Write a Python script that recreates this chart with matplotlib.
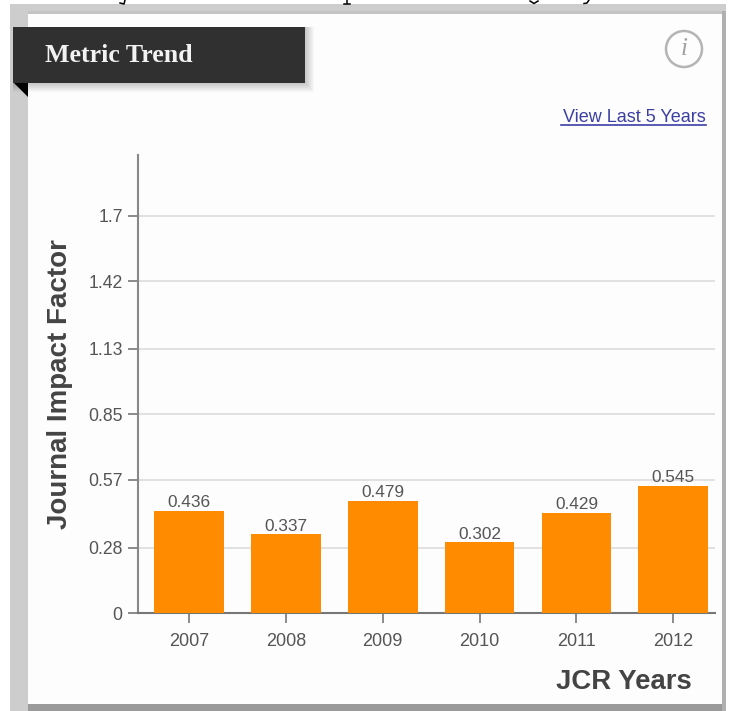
#!/usr/bin/env python3
"""
plot.py -- metric trend card: journal impact factor per JCR year.
"""
import matplotlib
matplotlib.use("Agg")
import matplotlib.pyplot as plt
from matplotlib.patches import Circle, Polygon, Rectangle

YEARS = ["2007", "2008", "2009", "2010", "2011", "2012"]
IMPACT = [0.436, 0.337, 0.479, 0.302, 0.429, 0.545]
Y_TICKS = [0, 0.28, 0.57, 0.85, 1.13, 1.42, 1.7]
Y_LABELS = ["0", "0.28", "0.57", "0.85", "1.13", "1.42", "1.7"]

W, H = 729, 711
SANS = "Liberation Sans"
SERIF = "Liberation Serif"


def draw_card(fig) -> None:
    """the grey frame, white panel, banner and link, in pixel coords."""
    bg = fig.add_axes([0, 0, 1, 1], zorder=0)
    bg.set_xlim(0, W)
    bg.set_ylim(H, 0)
    bg.axis("off")

    bg.add_patch(Rectangle((10, 4), 716, 707, color="#cdcdcd", lw=0))
    bg.add_patch(Rectangle((28, 11), 694, 693, color="#fdfdfd", lw=0))
    bg.add_patch(Rectangle((28, 11), 694, 3, color="#c4c4c4", lw=0))
    bg.add_patch(Rectangle((28, 704), 698, 7, color="#9a9a9a", lw=0))
    bg.add_patch(Rectangle((722, 11), 4, 700, color="#b0b0b0", lw=0))

    # banner with a soft shadow and the folded corner
    for grow in range(1, 10):
        bg.add_patch(Rectangle((13, 27), 292 + grow, 56 + grow, color="black", alpha=0.025, lw=0))
    bg.add_patch(Rectangle((13, 27), 292, 56, color="#303030", lw=0))
    bg.add_patch(Polygon([(14, 83), (28, 83), (28, 97)], color="black", lw=0))
    bg.text(45, 55, "Metric Trend", color="#f2f2f2", fontsize=18.6, family=SERIF,
            fontweight="bold", va="center")

    bg.add_patch(Circle((684, 49), 18, fc="none", ec="#b4b4b4", lw=1.8))
    bg.text(684, 49, "i", color="#a0a0a0", fontsize=18, family=SERIF, style="italic",
            ha="center", va="center")

    bg.text(706, 117, "View Last 5 Years", color="#3b3fa3", fontsize=13, family=SANS,
            ha="right", va="center")
    bg.plot([561, 706], [125, 125], color="#3b3fa3", lw=1.2)

    # tails of the caption letters cut off above the card
    for xs, ys in [([120, 124, 125], [3, 4, 0]), ([347, 347], [0, 3]), ([344, 350], [3.5, 3.5]),
                   ([530, 534, 538], [1, 3.5, 1]), ([584, 587, 589], [3.5, 3, 0])]:
        bg.plot(xs, ys, color="black", lw=1.1)


def plot_bars(fig) -> None:
    ax = fig.add_axes([138 / W, 1 - 613 / H, 577 / W, 458 / H], zorder=1)
    ax.patch.set_alpha(0)

    positions = list(range(len(YEARS)))
    bars = ax.bar(positions, IMPACT, width=0.72, color="#ff8c00", zorder=3)
    ax.bar_label(bars, labels=[f"{v:.3f}" for v in IMPACT], padding=0.5, fontsize=12.4,
                 color="#555555", family=SANS)

    ax.set_xlim(-0.526, 5.43)
    ax.set_ylim(0, 1.96)
    ax.set_xticks(positions, YEARS)
    ax.set_yticks(Y_TICKS, Y_LABELS)
    ax.grid(True, axis="y", color="#dcdcdc", lw=1.2, zorder=0)
    ax.tick_params(axis="x", length=7, width=1.2, color="#777777", pad=7.5,
                   labelsize=13, labelcolor="#555555")
    ax.tick_params(axis="y", length=7, width=1.2, color="#777777", pad=4,
                   labelsize=12.7, labelcolor="#555555")
    for lab in ax.get_xticklabels() + ax.get_yticklabels():
        lab.set_family(SANS)

    for side in ("top", "right"):
        ax.spines[side].set_visible(False)
    ax.spines["left"].set_color("#888888")
    ax.spines["left"].set_linewidth(1.5)
    ax.spines["bottom"].set_color("#777777")
    ax.spines["bottom"].set_linewidth(1.5)

    ax.set_ylabel("Journal Impact Factor", fontsize=20, fontweight="bold",
                  color="#444444", family=SANS, va="center")
    ax.yaxis.set_label_coords((60 - 138) / 577, 0.5)
    ax.set_xlabel("JCR Years", fontsize=19.8, fontweight="bold", color="#444444",
                  family=SANS, ha="right", va="center")
    ax.xaxis.set_label_coords((692 - 138) / 577, (613 - 682) / 458)


def main() -> None:
    fig = plt.figure(figsize=(W / 100, H / 100), dpi=100, facecolor="white")
    draw_card(fig)
    plot_bars(fig)
    fig.savefig("out.png", dpi=100)
    plt.close(fig)


if __name__ == "__main__":
    main()
